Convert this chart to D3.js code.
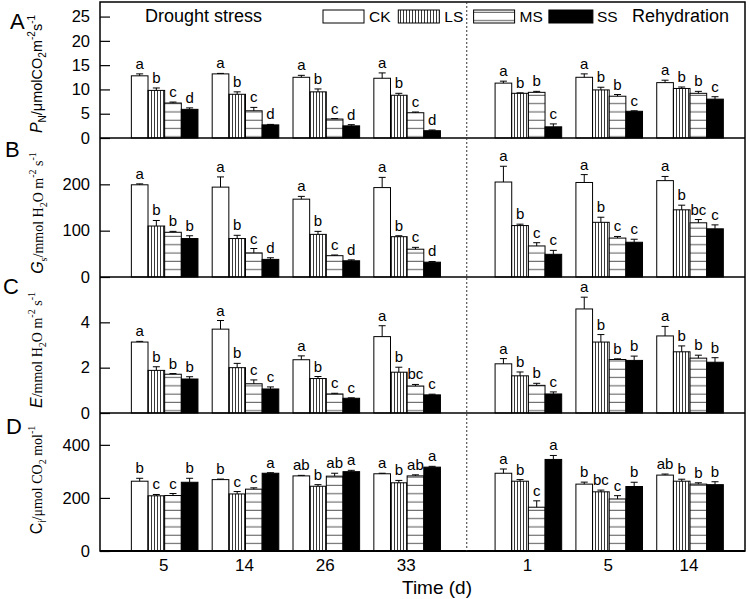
<!DOCTYPE html>
<html><head><meta charset="utf-8">
<script src="https://cdn.jsdelivr.net/npm/d3@7"></script>
<style>body{margin:0;background:#fff} svg{display:block} text{font-family:"Liberation Sans",Arial,sans-serif}</style>
</head><body><svg id="c" width="750" height="599"></svg>
<script>
// ---------- DATA ----------
const days = ["5","14","26","33","1","5","14"];
const phases = ["Drought stress","Drought stress","Drought stress","Drought stress","Rehydration","Rehydration","Rehydration"];
const treatments = ["CK","LS","MS","SS"];

// Panel A: Pn (umol CO2 m-2 s-1); rows = CK, LS, MS, SS
const pnMean = [
  [12.8, 13.2, 12.5, 12.3, 11.3, 12.5, 11.4],
  [9.8, 9.0, 9.5, 8.8, 9.2, 9.9, 10.2],
  [7.2, 5.6, 3.9, 5.2, 9.4, 8.6, 9.2],
  [5.9, 2.7, 2.5, 1.5, 2.3, 5.5, 8.0]
];
const pnErr = [
  [0.4, 0.1, 0.4, 1.1, 0.4, 0.7, 0.5],
  [0.5, 0.5, 0.6, 0.4, 0.1, 0.55, 0.3],
  [0.2, 0.7, 0.1, 0.15, 0.2, 0.35, 0.4],
  [0.3, 0.1, 0.25, 0.15, 0.6, 0.1, 0.5]
];
const pnLetters = [
  ["a","a","a","a","a","a","a"],
  ["b","b","b","b","b","b","b"],
  ["c","c","c","c","b","b","b"],
  ["d","d","d","d","c","c","c"]
];
const pnTicks = [0,5,10,15,20,25];

// Panel B: Gs (mmol H2O m-2 s-1)
const gsMean = [
  [199, 194, 168, 193, 205, 204, 208],
  [110, 83, 92, 87, 111, 118, 145],
  [96.5, 52, 46, 60, 67, 84, 117],
  [83, 38, 35, 32, 49, 75, 104]
];
const gsErr = [
  [2, 22, 6, 22, 34, 17, 9],
  [12, 7, 6.5, 2, 3, 11, 10],
  [2, 9.5, 1.5, 4, 7, 3.5, 7],
  [6, 3.5, 2, 1.5, 8.5, 6.5, 8.5]
];
const gsLetters = [
  ["a","a","a","a","a","a","a"],
  ["b","b","b","b","b","b","b"],
  ["b","c","c","c","c","c","bc"],
  ["b","d","d","d","c","c","c"]
];
const gsTicks = [0,100,200];

// Panel C: E (mmol H2O m-2 s-1)
const eMean = [
  [3.13, 3.7, 2.35, 3.37, 2.17, 4.59, 3.4],
  [1.88, 2.0, 1.52, 1.8, 1.64, 3.13, 2.7],
  [1.71, 1.29, 0.84, 1.19, 1.22, 2.36, 2.42],
  [1.5, 1.06, 0.65, 0.8, 0.84, 2.32, 2.24]
];
const eErr = [
  [0.03, 0.38, 0.17, 0.48, 0.23, 0.52, 0.42],
  [0.16, 0.19, 0.09, 0.22, 0.17, 0.33, 0.26],
  [0.03, 0.17, 0.03, 0.07, 0.09, 0.03, 0.13],
  [0.1, 0.09, 0.02, 0.03, 0.09, 0.19, 0.2]
];
const eLetters = [
  ["a","a","a","a","a","a","a"],
  ["b","b","b","b","b","b","b"],
  ["b","c","c","bc","b","b","b"],
  ["b","c","c","c","c","b","b"]
];
const eTicks = [0,2,4];

// Panel D: Ci (umol CO2 mol-1)
const ciMean = [
  [263, 269, 283, 291, 293, 252, 286],
  [208, 215, 244, 257, 263, 223, 263],
  [209, 233, 282, 283, 165, 196, 252],
  [259, 293, 299, 316, 345, 243, 250]
];
const ciErr = [
  [11, 2, 2, 2, 16, 7.5, 4],
  [5, 9, 6, 9, 6, 6.5, 7.5],
  [7.5, 5, 11, 4, 24, 12.5, 5],
  [15, 2, 5, 3, 15, 16, 11]
];
const ciLetters = [
  ["b","b","ab","a","a","b","ab"],
  ["c","c","b","b","b","bc","b"],
  ["c","c","ab","ab","c","c","b"],
  ["b","a","a","a","a","b","b"]
];
const ciTicks = [0,200,400];

// ---------- LAYOUT ----------
const svg = d3.select("#c");
const L = 100, R = 745;
const SANS = '"Liberation Sans",Arial,sans-serif';
const SERIF = '"Liberation Serif","Times New Roman",serif';

// group positions (extra half-gap when the phase changes)
const xPos = [];
let p = 0;
days.forEach((d, i) => { if (i > 0) p += (phases[i] !== phases[i-1]) ? 1.5 : 1; xPos.push(p); });

const x = d3.scaleLinear().domain([-0.8, 7.18]).range([L, R]);
const bw = 0.206;

const panels = [
  {mean: pnMean, err: pnErr, let: pnLetters, ticks: pnTicks, dom: [0,28], rng: [138, 2]},
  {mean: gsMean, err: gsErr, let: gsLetters, ticks: gsTicks, dom: [0,300], rng: [277, 138]},
  {mean: eMean, err: eErr, let: eLetters, ticks: eTicks, dom: [0,6], rng: [413, 277]},
  {mean: ciMean, err: ciErr, let: ciLetters, ticks: ciTicks, dom: [0,520], rng: [551, 413]}
];

// patterns
const defs = svg.append("defs");
const pv = defs.append("pattern").attr("id","vl").attr("patternUnits","userSpaceOnUse").attr("width",3).attr("height",10);
pv.append("rect").attr("width",3).attr("height",10).attr("fill","#fff");
pv.append("line").attr("x1",1.5).attr("x2",1.5).attr("y1",0).attr("y2",10).attr("stroke","#222").attr("stroke-width",0.9);
const ph = defs.append("pattern").attr("id","hl").attr("patternUnits","userSpaceOnUse").attr("width",10).attr("height",8.3);
ph.append("rect").attr("width",10).attr("height",8.3).attr("fill","#fff");
ph.append("line").attr("x1",0).attr("x2",10).attr("y1",4).attr("y2",4).attr("stroke","#555").attr("stroke-width",1);
const fills = ["#fff","url(#vl)","url(#hl)","#000"];

panels.forEach(pn => {
  const y = d3.scaleLinear().domain(pn.dom).range(pn.rng);
  const g = svg.append("g");
  treatments.forEach((t, ti) => {
    const rows = days.map((d, i) => ({i, v: pn.mean[ti][i], e: pn.err[ti][i], l: pn.let[ti][i]}));
    const xl = r => x(xPos[r.i] + (ti - 2) * bw);
    const wb = x(bw) - x(0);
    g.selectAll(null).data(rows).enter().append("rect")
      .attr("x", xl).attr("y", r => y(r.v)).attr("width", wb).attr("height", r => y(0) - y(r.v))
      .attr("fill", fills[ti]).attr("stroke","#000").attr("stroke-width",1);
    // error bars
    g.selectAll(null).data(rows).enter().append("line")
      .attr("x1", r => xl(r) + wb/2).attr("x2", r => xl(r) + wb/2)
      .attr("y1", r => y(r.v)).attr("y2", r => y(r.v + r.e)).attr("stroke","#000").attr("stroke-width",1);
    g.selectAll(null).data(rows).enter().append("line")
      .attr("x1", r => xl(r) + wb/2 - 3.5).attr("x2", r => xl(r) + wb/2 + 3.5)
      .attr("y1", r => y(r.v + r.e)).attr("y2", r => y(r.v + r.e)).attr("stroke","#000").attr("stroke-width",1);
    g.selectAll(null).data(rows).enter().append("text")
      .attr("x", r => xl(r) + wb/2).attr("y", r => y(r.v + r.e) - 5)
      .attr("text-anchor","middle").attr("font-size",15).text(r => r.l);
  });
  const ax = svg.append("g").attr("transform", `translate(${L},0)`)
    .call(d3.axisLeft(y).tickValues(pn.ticks).tickSizeInner(-10).tickSizeOuter(0).tickPadding(10).tickFormat(d3.format("d")));
  ax.select(".domain").remove();
  ax.selectAll(".tick line").attr("stroke","#000").attr("stroke-width",1.2);
  ax.selectAll(".tick text").attr("font-size",16.5).attr("font-family",SANS).attr("fill","#000");
});

// frame and separators
svg.append("rect").attr("x",L).attr("y",2).attr("width",R-L).attr("height",549)
  .attr("fill","none").attr("stroke","#000").attr("stroke-width",1.5);
panels.slice(1).forEach(pn => {
  svg.append("line").attr("x1",L).attr("x2",R).attr("y1",pn.rng[1]).attr("y2",pn.rng[1]).attr("stroke","#000").attr("stroke-width",1.5);
});
svg.append("line").attr("x1",L).attr("x2",R).attr("y1",551).attr("y2",551).attr("stroke","#000").attr("stroke-width",2);

// dotted phase divider
const divX = x((xPos[3] + xPos[4]) / 2) - 1;
svg.append("line").attr("x1",divX).attr("x2",divX).attr("y1",2).attr("y2",551)
  .attr("stroke","#333").attr("stroke-width",1).attr("stroke-dasharray","2,2");

// x tick labels
svg.selectAll(null).data(days).enter().append("text")
  .attr("x", (d,i) => x(xPos[i]) - 1).attr("y", 571).attr("text-anchor","middle")
  .attr("font-size",17).text(d => d);
svg.append("text").attr("x",437).attr("y",594).attr("text-anchor","middle").attr("font-size",19).text("Time (d)");

// phase labels + legend
svg.append("text").attr("x",145).attr("y",22).attr("font-size",18).text(phases[0]);
svg.append("text").attr("x",632).attr("y",22).attr("font-size",18).text(phases[6]);
treatments.forEach((t, ti) => {
  const bx = 323 + ti * 75.3;
  svg.append("rect").attr("x",bx).attr("y",10).attr("width", ti===3 ? 44 : 41).attr("height",13)
    .attr("fill",fills[ti]).attr("stroke","#000").attr("stroke-width",1);
  svg.append("text").attr("x", bx + (ti===3 ? 48 : 46)).attr("y",22).attr("font-size",15.5).text(t);
});

// panel letters
[["A",10,29],["B",5,157],["C",3,294],["D",6,434]].forEach(([s,px,py]) => {
  svg.append("text").attr("x",px).attr("y",py).attr("font-size",22).text(s);
});

// y titles
function ytitle(cx, cy, parts) {
  const t = svg.append("text").attr("transform",`translate(${cx},${cy}) rotate(-90)`).attr("text-anchor","middle");
  parts.forEach(pt => {
    const s = t.append("tspan").text(pt.t).attr("font-size", pt.fs).attr("font-family", pt.ff || SANS);
    if (pt.it) s.attr("font-style","italic");
    if (pt.dy) s.attr("dy", pt.dy);
  });
}
ytitle(42, 74, [
  {t:"P", fs:16, it:true},
  {t:"N", fs:10, dy:4},
  {t:"/μmolCO", fs:14.5, dy:-4},
  {t:"2", fs:10, dy:4},
  {t:"m", fs:14.5, dy:-4},
  {t:"-2", fs:10, dy:-7},
  {t:"s", fs:14.5, dy:7},
  {t:"-1", fs:10, dy:-7}
]);
ytitle(43, 213, [
  {t:"G", fs:16, it:true},
  {t:"s", fs:10, dy:4, ff:SERIF},
  {t:"/mmol H", fs:14, dy:-4, ff:SERIF},
  {t:"2", fs:10, dy:4, ff:SERIF},
  {t:"O m", fs:14, dy:-4, ff:SERIF},
  {t:"-2", fs:10, dy:-7, ff:SERIF},
  {t:" s", fs:14, dy:7, ff:SERIF},
  {t:"-1", fs:10, dy:-7, ff:SERIF}
]);
ytitle(42, 350, [
  {t:"E", fs:16, it:true},
  {t:"/mmol H", fs:14, ff:SERIF},
  {t:"2", fs:10, dy:4, ff:SERIF},
  {t:"O m", fs:14, dy:-4, ff:SERIF},
  {t:"-2", fs:10, dy:-7, ff:SERIF},
  {t:" s", fs:14, dy:7, ff:SERIF},
  {t:"-1", fs:10, dy:-7, ff:SERIF}
]);
ytitle(42, 480, [
  {t:"C", fs:16},
  {t:"i", fs:10, dy:4},
  {t:"/μmol CO", fs:14, dy:-4, ff:SERIF},
  {t:"2", fs:10, dy:4, ff:SERIF},
  {t:" mol", fs:14, dy:-4, ff:SERIF},
  {t:"-1", fs:10, dy:-7, ff:SERIF}
]);
</script>
</body></html>
